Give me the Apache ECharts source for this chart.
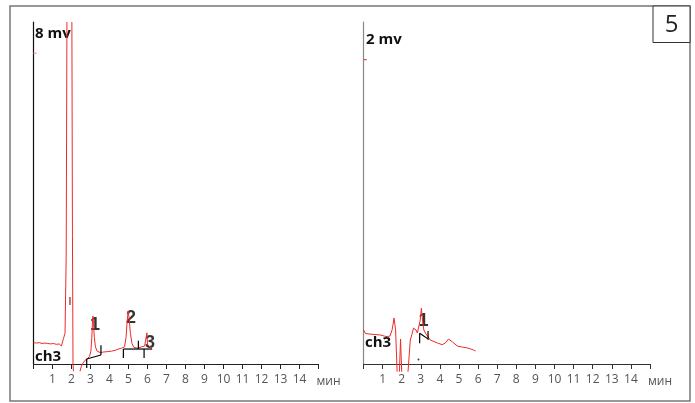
<!DOCTYPE html>
<html>
<head>
<meta charset="utf-8">
<script src="https://cdn.jsdelivr.net/npm/echarts@6/dist/echarts.min.js"></script>
<style>
  html, body { margin: 0; padding: 0; background: #fff; }
  #chart { width: 695px; height: 403px; }
</style>
</head>
<body>
<div id="chart"></div>
<script>
// time in minutes, signal in mV
const timeTicks = [1, 2, 3, 4, 5, 6, 7, 8, 9, 10, 11, 12, 13, 14];

// left chromatogram (8 mV full scale), split where the trace leaves the plot
const leftTraceA = [[0, 0.50], [0.15, 0.49], [0.3, 0.50], [0.45, 0.48], [0.6, 0.49], [0.75, 0.48], [0.9, 0.47], [1.05, 0.48], [1.2, 0.46], [1.35, 0.47], [1.42, 0.44], [1.47, 0.42], [1.52, 0.46], [1.58, 0.60], [1.66, 0.72], [1.72, 2.5], [1.76, 8]];
const leftTraceB = [[2.02, 8], [2.05, 3], [2.08, 0], [2.10, -0.17]];
const leftTraceC = [[2.45, -0.17], [2.52, -0.05], [2.6, 0.02], [2.72, 0.09], [2.85, 0.13], [2.95, 0.18], [3.02, 0.30], [3.07, 0.62], [3.11, 1.05], [3.13, 1.12], [3.16, 0.95], [3.2, 0.62], [3.26, 0.40], [3.35, 0.30], [3.5, 0.27], [3.7, 0.28], [3.9, 0.29], [4.1, 0.30], [4.3, 0.32], [4.47, 0.35], [4.63, 0.37], [4.79, 0.40], [4.87, 0.62], [4.93, 1.0], [4.98, 1.24], [5.03, 1.08], [5.1, 0.72], [5.18, 0.48], [5.28, 0.39], [5.47, 0.37], [5.68, 0.40], [5.85, 0.42], [5.93, 0.44], [5.97, 0.73], [6.0, 0.45], [6.08, 0.41], [6.18, 0.38], [6.24, 0.33]];
const leftPeaks = [[3.24, 0.91, '1'], [5.13, 1.08, '2'], [6.13, 0.49, '3']];
const leftBaselines = [
  [[2.80, 0.117], [3.55, 0.21]], [[2.80, 0.117], [2.80, -0.094]], [[3.55, 0.21], [3.55, 0.44]],
  [[4.73, 0.35], [6.22, 0.35]], [[4.73, 0.35], [4.73, 0.14]], [[5.52, 0.35], [5.52, 0.545]], [[5.82, 0.35], [5.82, 0.14]]
];

// right chromatogram (2 mV full scale)
const rightTraceA = [[0, 0.20], [0.05, 0.19], [0.1, 0.178], [0.34, 0.175], [0.6, 0.172], [0.87, 0.170], [1.1, 0.163], [1.24, 0.160], [1.39, 0.164], [1.50, 0.20], [1.60, 0.269], [1.68, 0.20], [1.76, -0.045]];
const rightTraceB = [[1.88, -0.045], [1.94, 0.146], [2.0, -0.045]];
const rightTraceC = [[2.33, -0.045], [2.45, 0.14], [2.54, 0.175], [2.62, 0.21], [2.75, 0.199], [2.82, 0.181], [2.88, 0.17], [2.97, 0.257], [3.03, 0.326], [3.12, 0.228], [3.16, 0.199], [3.24, 0.181], [3.5, 0.14], [3.87, 0.123], [4.12, 0.113], [4.29, 0.123], [4.45, 0.146], [4.66, 0.129], [4.91, 0.105], [5.17, 0.099], [5.43, 0.094], [5.61, 0.088], [5.76, 0.082], [5.87, 0.076]];
const rightPeaks = [[3.14, 0.254, '1']];
const rightBaselines = [
  [[2.94, 0.18], [3.41, 0.144]], [[2.94, 0.18], [2.94, 0.121]], [[3.38, 0.193], [3.38, 0.144]]
];

const traceColor = '#ee2a2a';
const numFont = "'Open Sans', 'Noto Sans', sans-serif";

function traceSeries(data, idx) {
  return {
    type: 'line', xAxisIndex: idx, yAxisIndex: idx, data: data,
    showSymbol: false, clip: false, animation: false, silent: true,
    lineStyle: { color: traceColor, width: 1 }
  };
}

function markSeries(seg, idx, color) {
  return {
    type: 'line', xAxisIndex: idx, yAxisIndex: idx, data: seg,
    showSymbol: false, clip: false, animation: false, silent: true,
    lineStyle: { color: color || '#000', width: 1.2 }
  };
}

function peakSeries(peaks, idx) {
  return {
    type: 'scatter', xAxisIndex: idx, yAxisIndex: idx, symbolSize: 0,
    data: peaks.map(p => ({ value: [p[0], p[1]], name: p[2] })),
    animation: false, silent: true,
    label: {
      show: true, position: 'inside', formatter: p => p.name,
      fontFamily: "'Liberation Sans', Arial, sans-serif",
      fontWeight: 'bold', fontSize: 18, color: '#000',
      textBorderWidth: 0, textBorderColor: 'transparent'
    }
  };
}

function xAxisFor(idx, lineColor) {
  return {
    type: 'value', gridIndex: idx, min: 0, max: 15, interval: 1,
    name: 'мин', nameLocation: 'end', nameGap: -2,
    nameTextStyle: { color: '#555', fontSize: 12, fontFamily: numFont, verticalAlign: 'top', padding: [12, 0, 0, 0] },
    axisLine: { lineStyle: { color: lineColor, width: 1 } },
    axisTick: { length: 5, lineStyle: { color: lineColor } },
    axisLabel: {
      color: '#555', fontSize: 12, fontFamily: numFont, margin: 10,
      formatter: v => (timeTicks.indexOf(v) >= 0 ? String(v) : '')
    },
    splitLine: { show: false }
  };
}

function yAxisFor(idx, max, lineColor) {
  return {
    type: 'value', gridIndex: idx, min: 0, max: max,
    axisLine: { show: true, lineStyle: { color: lineColor, width: 1.2 } },
    axisTick: { show: false }, axisLabel: { show: false }, splitLine: { show: false }
  };
}

let myChart = echarts.init(document.getElementById('chart'));
let series = [
  traceSeries(leftTraceA, 0), traceSeries(leftTraceB, 0), traceSeries(leftTraceC, 0),
  traceSeries(rightTraceA, 1), traceSeries(rightTraceB, 1), traceSeries(rightTraceC, 1),
  markSeries([[0, 7.27], [0.17, 7.27]], 0, '#f59a9a'),
  markSeries([[0, 1.78], [0.17, 1.78]], 1, '#e84848'),
  markSeries([[1.92, 1.57], [1.92, 1.38]], 0, '#a01818'),
  peakSeries(leftPeaks, 0), peakSeries(rightPeaks, 1),
  {
    type: 'scatter', xAxisIndex: 1, yAxisIndex: 1, symbolSize: 2, data: [[2.88, 0.026]],
    itemStyle: { color: '#111' }, animation: false, silent: true
  }
];
leftBaselines.forEach(seg => series.push(markSeries(seg, 0)));
rightBaselines.forEach(seg => series.push(markSeries(seg, 1)));

myChart.setOption({
  animation: false,
  grid: [
    { left: 33.5, right: 376.5, top: 22, bottom: 39 },
    { left: 363.5, right: 45, top: 22, bottom: 39 }
  ],
  xAxis: [xAxisFor(0, '#222'), xAxisFor(1, '#333')],
  yAxis: [yAxisFor(0, 8, '#111'), yAxisFor(1, 2, '#888')],
  series: series,
  graphic: [
    { type: 'rect', shape: { x: 10, y: 6, width: 680, height: 395 }, style: { fill: 'none', stroke: '#777', lineWidth: 1.5 } },
    { type: 'rect', shape: { x: 653, y: 6, width: 37, height: 36.5 }, style: { fill: '#fff', stroke: '#333', lineWidth: 1 } },
    { type: 'text', style: { text: '5', x: 671.5, y: 25, align: 'center', verticalAlign: 'middle', font: "24px 'Open Sans', sans-serif", fill: '#222' } },
    { type: 'text', style: { text: '8 mv', x: 35, y: 34, verticalAlign: 'middle', font: "bold 15px 'Open Sans', sans-serif", fill: '#111' } },
    { type: 'text', style: { text: '2 mv', x: 366, y: 40, verticalAlign: 'middle', font: "bold 15px 'Open Sans', sans-serif", fill: '#111' } },
    { type: 'text', style: { text: 'ch3', x: 35, y: 357, verticalAlign: 'middle', font: "bold 15px 'Open Sans', sans-serif", fill: '#111' } },
    { type: 'text', style: { text: 'ch3', x: 365, y: 343, verticalAlign: 'middle', font: "bold 15px 'Open Sans', sans-serif", fill: '#111' } }
  ]
});
</script>
</body>
</html>
